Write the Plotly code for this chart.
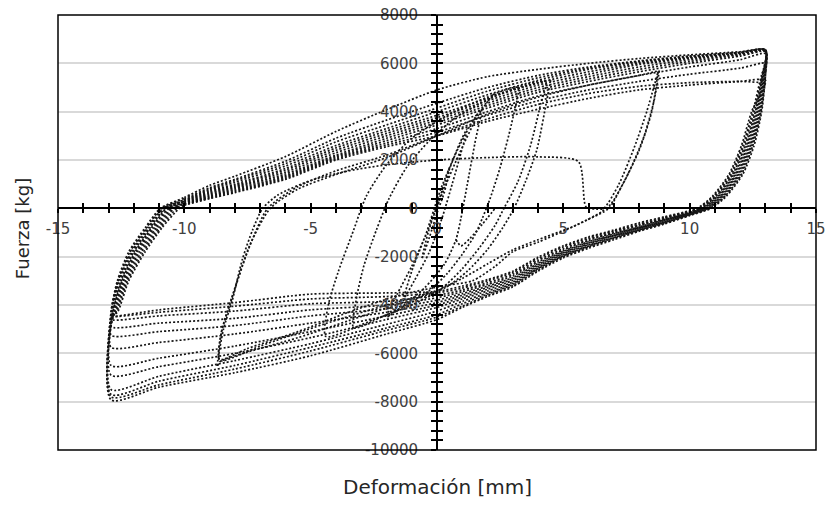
import plotly.graph_objects as go

# ---- repeated large-amplitude cycles (+/-13 mm) ----
# upper (loading) branch: force at shared displacement stations
X_UP = [-10, -9, -8, -6, -4, -2, 0, 2, 4, 6, 8, 10, 12, 13]
UP_Y = [
    [450, 950, 1330, 2140, 3180, 4080, 4900, 5450, 5750, 6000, 6200, 6350, 6480, 6560],
    [400, 850, 1200, 1950, 2900, 3650, 4350, 5000, 5500, 5850, 6100, 6300, 6450, 6560],
    [350, 800, 1150, 1850, 2750, 3450, 4150, 4850, 5400, 5800, 6080, 6280, 6450, 6550],
    [320, 750, 1080, 1750, 2600, 3300, 4000, 4700, 5300, 5750, 6050, 6250, 6440, 6550],
    [300, 700, 1000, 1650, 2500, 3200, 3850, 4550, 5200, 5650, 6000, 6230, 6420, 6540],
    [270, 650, 950, 1580, 2400, 3100, 3750, 4450, 5100, 5550, 5950, 6200, 6400, 6530],
    [250, 600, 900, 1500, 2300, 3000, 3650, 4350, 5000, 5450, 5850, 6150, 6380, 6520],
    [220, 550, 850, 1420, 2200, 2900, 3550, 4250, 4900, 5350, 5750, 6080, 6350, 6500],
    [200, 500, 800, 1350, 2150, 2800, 3450, 4150, 4800, 5250, 5650, 6000, 6300, 6480],
    [180, 470, 750, 1300, 2100, 2700, 3300, 4000, 4650, 5100, 5500, 5850, 6150, 6400],
    [150, 430, 700, 1250, 2050, 2620, 3150, 3850, 4450, 4900, 5250, 5550, 5800, 6000],
    [120, 400, 650, 1200, 2000, 2550, 3000, 3600, 4100, 4550, 4900, 5100, 5250, 5300],
]
# unloading from the positive peak: displacement at shared force levels
Y_RU = [5500, 4000, 2600, 1400, 500, 0]
RU_X = [
    [13.0, 12.85, 12.55, 12.1, 11.45, 10.85],
    [13.0, 12.82, 12.5, 12.05, 11.4, 10.8],
    [12.98, 12.8, 12.47, 12.0, 11.35, 10.75],
    [12.97, 12.77, 12.43, 11.95, 11.3, 10.7],
    [12.95, 12.74, 12.4, 11.9, 11.25, 10.65],
    [12.93, 12.7, 12.35, 11.85, 11.2, 10.6],
    [12.92, 12.67, 12.3, 11.8, 11.15, 10.55],
    [12.9, 12.63, 12.25, 11.75, 11.1, 10.5],
    [12.88, 12.6, 12.2, 11.7, 11.05, 10.45],
    [12.86, 12.55, 12.15, 11.65, 11.0, 10.4],
    [12.84, 12.5, 12.1, 11.6, 10.95, 10.35],
    [12.82, 12.45, 12.05, 11.55, 10.9, 10.3],
]
# lower (reverse loading) branch
X_LO = [10, 9, 8, 7, 6, 5, 4, 3, 2, 1, 0, -2, -5, -8, -11, -12.9]
LO_Y = [
    [-300, -650, -950, -1300, -1650, -2050, -2600, -3250, -3650, -4100, -4600, -5200, -6100, -6800, -7400, -7925],
    [-280, -620, -920, -1250, -1600, -2000, -2550, -3200, -3600, -4050, -4500, -5050, -5900, -6650, -7300, -7800],
    [-260, -600, -900, -1220, -1570, -1970, -2500, -3150, -3550, -3950, -4400, -4950, -5750, -6500, -7150, -7700],
    [-250, -580, -880, -1200, -1550, -1950, -2480, -3100, -3500, -3850, -4250, -4800, -5600, -6300, -6950, -7500],
    [-230, -550, -850, -1150, -1500, -1900, -2430, -3050, -3420, -3750, -4100, -4600, -5350, -6000, -6550, -6900],
    [-210, -520, -820, -1120, -1460, -1860, -2380, -2980, -3350, -3680, -4000, -4450, -5100, -5700, -6200, -6500],
    [-200, -500, -800, -1100, -1420, -1820, -2330, -2920, -3280, -3600, -3900, -4300, -4750, -5200, -5550, -5750],
    [-180, -470, -770, -1060, -1380, -1780, -2280, -2870, -3220, -3530, -3800, -4150, -4450, -4850, -5100, -5250],
    [-160, -440, -730, -1020, -1330, -1730, -2220, -2800, -3150, -3450, -3700, -4000, -4200, -4550, -4750, -4900],
    [-140, -410, -690, -980, -1280, -1670, -2150, -2730, -3080, -3380, -3600, -3850, -3950, -4250, -4450, -4600],
    [-120, -380, -650, -940, -1230, -1600, -2080, -2660, -3000, -3300, -3500, -3650, -3750, -4050, -4300, -4470],
    [-100, -350, -600, -900, -1180, -1550, -2020, -2600, -2950, -3220, -3440, -3500, -3550, -3900, -4200, -4470],
]
# unloading from the negative peak
Y_LU = [-4300, -3000, -1800, -800, 0]
LU_X = [
    [-12.9, -12.65, -12.2, -11.55, -10.95],
    [-12.9, -12.62, -12.15, -11.5, -10.9],
    [-12.88, -12.6, -12.1, -11.45, -10.85],
    [-12.86, -12.55, -12.05, -11.4, -10.8],
    [-12.85, -12.5, -12.0, -11.35, -10.75],
    [-12.83, -12.47, -11.95, -11.3, -10.7],
    [-12.8, -12.43, -11.9, -11.25, -10.62],
    [-12.78, -12.4, -11.85, -11.18, -10.55],
    [-12.75, -12.35, -11.78, -11.1, -10.48],
    [-12.72, -12.3, -11.7, -11.02, -10.4],
    [-12.7, -12.25, -11.62, -10.95, -10.3],
    [-12.65, -12.2, -11.55, -10.88, -10.2],
]

# ---- early and intermediate cycles ----
SMALL_X = [0, 0.25, 0.5, 0.3, 0.0, -0.3, -0.6, -0.35, 0.0, 0.45, 0.9, 1.2, 0.95, 0.6, 0.2,
           -0.3, -0.9, -1.3, -1.0, -0.45, 0.15, 0.8, 1.3, 1.75, 1.5, 1.2, 0.95, 0.75, 0.3,
           -0.5, -1.3, -2.0, -1.6, -1.0, -0.4, 0.2, 0.9, 1.6, 2.2]
SMALL_Y = [0, 900, 1700, 700, -200, -1200, -2100, -1000, 100, 1500, 2700, 3300, 2300, 1000, -400,
           -1800, -3000, -3700, -2600, -1100, 800, 2400, 3400, 4100, 2700, 1000, -400, -1300, -2300,
           -3300, -4000, -4500, -3600, -2400, -1000, 600, 2300, 3800, 4700]

# short reversal just below zero, right of the origin
HOOK_X = [0.75, 0.95, 1.3, 1.8, 2.3]
HOOK_Y = [-1300, -1550, -1250, -650, 0]

CYC3_X = [2.2, 2.7, 3.2, 2.95, 2.5, 2.1, 1.8, 1.5, 1.0, 0.4, -0.3, -1.2, -2.2, -3.3,
          -3.2, -2.9, -2.4, -1.9, -1.2, -0.3, 0.8, 2.0, 3.3]
CYC3_Y = [4700, 4900, 5000, 3500, 1700, 400, -400, -1100, -1900, -2700, -3400, -4000, -4500, -4950,
          -3800, -2400, -900, 400, 1700, 2800, 3800, 4500, 5050]

CYC4_X = [3.3, 4.3, 4.1, 3.7, 3.2, 2.65, 2.3, 1.7, 1.0, 0.2, -1.0, -2.5, -4.4,
          -4.3, -3.9, -3.3, -2.8, -2.0, -1.0, 0.5, 2.0, 3.5, 4.5]
CYC4_Y = [5050, 5250, 4300, 2600, 1100, 0, -700, -1600, -2500, -3300, -4000, -4600, -5300,
          -4000, -2600, -900, 500, 1800, 2900, 3900, 4600, 5050, 5300]

CYC8A_X = [4.5, 4.35, 3.95, 3.5, 3.05, 2.6, 2.0, 1.2, 0.3, -1.5, -3.5, -5.5, -7.5, -8.6,
           -8.7, -8.45, -8.1, -7.7, -7.3, -6.9, -6.3, -5.0, -3.5, -2.0, 0.0, 2.0, 4.0, 5.6,
           5.9, 6.3, 6.6, 7.2, 7.8, 8.3, 8.75]
CYC8A_Y = [5300, 4500, 2420, 1100, 0, -800, -1700, -2600, -3300, -3950, -4650, -5350, -5950, -6350,
           -6550, -5000, -3800, -2100, -900, 0, 550, 1150, 1550, 1800, 2000, 2100, 2130, 1930,
           60, -30, 0, 1000, 2500, 4000, 5650]

CYC8B_X = [8.75, 8.5, 8.0, 7.3, 6.8, 5.9, 5.1, 4.0, 3.0, 2.3, 1.4, 0.3, -1.5, -3.5, -5.5, -7.5, -8.6,
           -8.5, -8.0, -7.4, -6.6, -5.5, -4.0, -2.0, 0.0, 2.0, 4.0, 6.0, 8.0, 8.8]
CYC8B_Y = [5650, 4000, 2400, 900, 0, -500, -900, -1400, -1800, -2400, -3000, -3200, -3600, -4300,
           -5100, -5800, -6250, -5000, -3300, -1500, 0, 800, 1400, 2100, 3000, 3900, 4600, 5100, 5500, 5700]

CYC8C_X = [8.8, 8.6, 8.2, 7.6, 6.9, 6.5, 5.5, 4.0, 3.0, 2.0, 1.0, 0.0, -2.0, -4.5, -7.0, -8.6,
           -8.55, -8.2, -7.5, -6.7, -5.5, -4.0, -2.0, 0.0, 2.0, 4.0, 6.0, 8.0, 10.0, 12.0, 12.9]
CYC8C_Y = [5700, 4500, 3000, 1500, 200, -150, -700, -1300, -1720, -2300, -2900, -3400, -4000, -4800,
           -5700, -6300, -5200, -4000, -1800, 0, 900, 1550, 2200, 3000, 3700, 4300, 4750, 5050, 5200,
           5250, 5200]

# axis labels
X_TICKS = [-15, -10, -5, 0, 5, 10, 15]
Y_TICKS = [-10000, -8000, -6000, -4000, -2000, 0, 2000, 4000, 6000, 8000]

LINE = dict(color="#151515", width=1.7, dash="2px,2px", shape="spline", smoothing=0.7)

fig = go.Figure()


def add_path(xs, ys):
    fig.add_trace(go.Scatter(x=xs, y=ys, mode="lines", line=LINE,
                             hoverinfo="skip", showlegend=False))


for k in range(len(UP_Y)):
    xs = [LU_X[k][-1]] + X_UP
    ys = [0] + UP_Y[k]
    peak = UP_Y[k][-1]
    for xv, yv in zip(RU_X[k], Y_RU):
        if yv < peak:
            xs.append(xv)
            ys.append(yv)
    xs += X_LO
    ys += LO_Y[k]
    for xv, yv in zip(LU_X[k], Y_LU):
        if yv > LO_Y[k][-1]:
            xs.append(xv)
            ys.append(yv)
    add_path(xs, ys)

for xs, ys in [(SMALL_X, SMALL_Y), (HOOK_X, HOOK_Y), (CYC3_X, CYC3_Y), (CYC4_X, CYC4_Y),
               (CYC8A_X, CYC8A_Y), (CYC8B_X, CYC8B_Y), (CYC8C_X, CYC8C_Y)]:
    add_path(xs, ys)

# companion axes carrying the inward half of the cross ticks
fig.add_trace(go.Scatter(x=[None], y=[None], xaxis="x2", yaxis="y2",
                         mode="lines", showlegend=False, hoverinfo="skip"))

TICKFONT = dict(family="DejaVu Sans", size=15, color="#404040")
X_POS = 10000 / 18000  # y = 0 inside [-10000, 8000]
Y_POS = 0.5            # x = 0 inside [-15, 15]

common_x = dict(range=[-15, 15], tickmode="array", tickvals=X_TICKS,
                ticktext=[str(v) for v in X_TICKS],
                showgrid=False, zeroline=False, automargin=False,
                showline=True, linecolor="black", linewidth=1.8,
                ticklen=4, tickwidth=1.5, tickcolor="black",
                anchor="free", position=X_POS)
common_y = dict(range=[-10000, 8000], tickmode="array", tickvals=Y_TICKS,
                ticktext=[str(v) for v in Y_TICKS],
                zeroline=False, automargin=False,
                showline=True, linecolor="black", linewidth=1.8,
                ticklen=5, tickwidth=1.5, tickcolor="black",
                anchor="free", position=Y_POS)

fig.update_layout(
    width=831, height=507,
    margin=dict(l=58, r=15, t=15, b=57, autoexpand=False),
    plot_bgcolor="white", paper_bgcolor="white",
    showlegend=False,
    xaxis=dict(**common_x, ticks="outside", tickfont=TICKFONT, ticklabelstandoff=3,
               minor=dict(tickmode="linear", tick0=0, dtick=1, ticks="outside", ticklen=4,
                          tickwidth=1.5, tickcolor="black", showgrid=False)),
    yaxis=dict(**common_y, ticks="outside", tickfont=TICKFONT, ticklabelstandoff=10,
               showgrid=True, gridcolor="#d9d9d9", gridwidth=1.5,
               minor=dict(tickmode="linear", tick0=0, dtick=400, ticks="outside", ticklen=5,
                          tickwidth=1.5, tickcolor="black", showgrid=False)),
    xaxis2=dict(**common_x, overlaying="x", ticks="inside", showticklabels=False,
                minor=dict(tickmode="linear", tick0=0, dtick=1, ticks="inside", ticklen=4,
                           tickwidth=1.5, tickcolor="black", showgrid=False)),
    yaxis2=dict(**common_y, overlaying="y", ticks="inside", showticklabels=False,
                showgrid=False,
                minor=dict(tickmode="linear", tick0=0, dtick=400, ticks="inside", ticklen=5,
                           tickwidth=1.5, tickcolor="black", showgrid=False)),
    shapes=[dict(type="rect", xref="paper", yref="paper", x0=0, x1=1, y0=0, y1=1,
                 line=dict(color="black", width=1.5), layer="above")],
    annotations=[
        dict(text="Deformación [mm]", xref="paper", yref="paper", x=0.501, y=-0.085,
             xanchor="center", yanchor="middle", showarrow=False,
             font=dict(family="DejaVu Sans", size=20, color="#262626")),
        dict(text="Fuerza [kg]", xref="paper", yref="paper", x=-0.0475, y=0.51,
             xanchor="center", yanchor="middle", textangle=-90, showarrow=False,
             font=dict(family="DejaVu Sans", size=18, color="#262626")),
    ],
)

fig.write_html("out.html")
